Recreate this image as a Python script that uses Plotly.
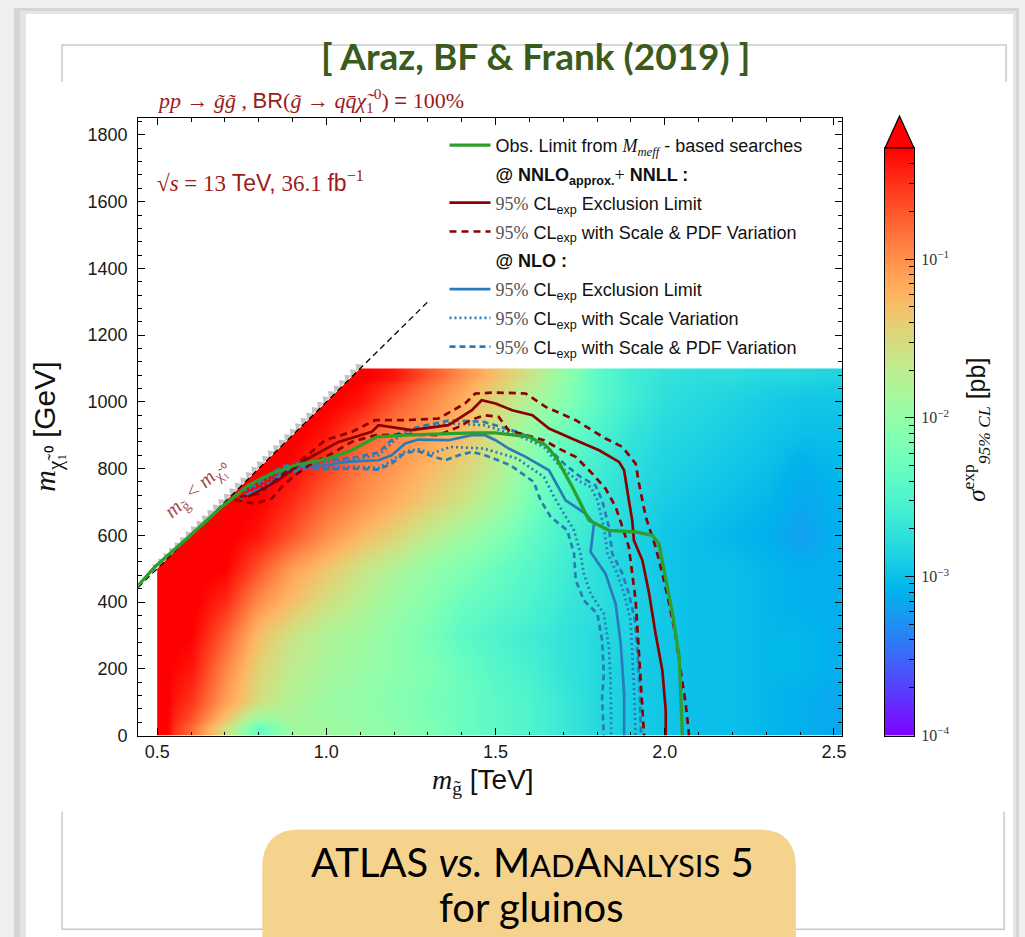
import numpy as np
import plotly.graph_objects as go

W, H = 1025, 937
# the page is photographed slightly shrunk; place items so they land on target pixels
SX, SY = 0.995, 0.99


def px(x):
    return x / (W * SX)


def py(y):
    return 1 - y / (H * SY)


# ---------------------------------------------------------------- data
# expected 95% CL cross-section upper limit, log10(sigma / pb)
m_gluino = [0.5, 0.6, 0.7, 0.8, 0.9, 1.0, 1.1, 1.2, 1.3, 1.4, 1.5,
            1.6, 1.7, 1.8, 1.9, 2.0, 2.1, 2.2, 2.3, 2.4, 2.5]          # TeV
m_neutralino = [0, 100, 200, 300, 400, 500, 600, 700, 800, 900, 1000, 1100]  # GeV
log_sigma = [
    [-0.25, -0.80, -1.55, -2.35, -1.90, -1.90, -1.98, -2.05, -2.15, -2.30, -2.40, -2.50, -2.65, -2.80, -2.90, -2.95, -3.00, -3.00, -3.05, -3.10, -3.15],
    [-0.25, -0.55, -1.10, -1.55, -1.80, -1.95, -2.00, -2.10, -2.20, -2.30, -2.40, -2.50, -2.65, -2.80, -2.90, -2.95, -3.00, -3.00, -3.05, -3.10, -3.15],
    [-0.25, -0.40, -0.95, -1.45, -1.70, -1.85, -1.95, -2.05, -2.15, -2.30, -2.45, -2.55, -2.70, -2.80, -2.90, -2.95, -3.00, -3.00, -3.05, -3.05, -3.10],
    [-0.25, -0.30, -0.75, -1.30, -1.60, -1.80, -1.90, -2.05, -2.20, -2.40, -2.50, -2.60, -2.70, -2.80, -2.85, -2.95, -3.00, -3.00, -3.05, -3.05, -3.10],
    [-0.25, -0.25, -0.50, -1.00, -1.30, -1.55, -1.75, -1.95, -2.10, -2.30, -2.40, -2.50, -2.65, -2.75, -2.85, -2.95, -3.00, -3.00, -3.05, -3.10, -3.10],
    [-0.25, -0.25, -0.30, -0.70, -1.10, -1.35, -1.60, -1.80, -2.00, -2.15, -2.30, -2.45, -2.60, -2.75, -2.85, -2.95, -3.00, -3.00, -3.05, -3.10, -3.10],
    [-0.25, -0.25, -0.25, -0.40, -0.70, -1.00, -1.25, -1.45, -1.70, -1.90, -2.10, -2.35, -2.55, -2.70, -2.85, -2.95, -3.00, -3.05, -3.10, -3.20, -3.10],
    [-0.25, -0.25, -0.25, -0.30, -0.50, -0.80, -1.00, -1.20, -1.40, -1.60, -1.85, -2.20, -2.50, -2.65, -2.80, -2.90, -2.95, -3.00, -3.05, -3.15, -3.10],
    [-0.25, -0.25, -0.25, -0.25, -0.35, -0.60, -0.90, -1.05, -1.25, -1.45, -1.70, -2.10, -2.40, -2.60, -2.75, -2.85, -2.90, -2.95, -3.00, -3.10, -3.05],
    [-0.25, -0.25, -0.25, -0.25, -0.25, -0.40, -0.70, -0.95, -1.10, -1.30, -1.60, -2.00, -2.30, -2.50, -2.70, -2.80, -2.85, -2.90, -2.95, -3.00, -3.00],
    [-0.25, -0.25, -0.25, -0.25, -0.25, -0.25, -0.40, -0.70, -0.95, -1.20, -1.50, -1.80, -2.10, -2.40, -2.60, -2.75, -2.80, -2.85, -2.90, -2.95, -2.95],
    [-0.25, -0.25, -0.25, -0.25, -0.25, -0.25, -0.25, -0.40, -0.70, -1.00, -1.30, -1.60, -2.00, -2.40, -2.60, -2.70, -2.75, -2.75, -2.80, -2.80, -2.85],
]

# observed limit (M_eff based searches)
obs_x = [0.444, 0.493, 0.592, 0.690, 0.740, 0.769, 0.838, 0.907, 1.006, 1.075, 1.149, 1.233, 1.430,
         1.500, 1.599, 1.648, 1.678, 1.727, 1.776, 1.835, 1.914, 1.963, 1.983, 2.003, 2.023, 2.043, 2.047, 2.052]
obs_y = [450, 505, 594, 685, 725, 750, 785, 810, 830, 855, 895, 900, 907,
         907, 895, 870, 835, 745, 645, 615, 610, 600, 575, 475, 365, 235, 125, 0]

# NNLO_approx + NNLL expected limit and its scale & PDF band
nnll_x = [0.769, 0.858, 0.937, 1.036, 1.134, 1.154, 1.252, 1.361, 1.430, 1.459, 1.500, 1.549, 1.609, 1.658,
          1.737, 1.806, 1.865, 1.880, 1.894, 1.904, 1.909, 1.934, 1.954, 1.973, 1.993, 2.003, 2.003]
nnll_y = [715, 765, 825, 880, 910, 930, 915, 930, 975, 1005, 995, 975, 960, 920,
          885, 855, 820, 795, 705, 645, 585, 525, 425, 305, 195, 75, 0]
nnll_up_x = [0.745, 0.800, 0.880, 0.950, 0.996, 1.075, 1.144, 1.233, 1.331, 1.410, 1.440, 1.500, 1.589, 1.648,
             1.737, 1.825, 1.875, 1.914, 1.924, 1.944, 1.973, 1.993, 2.013, 2.033, 2.047, 2.062, 2.072]
nnll_up_y = [715, 725, 790, 845, 885, 910, 945, 945, 950, 995, 1025, 1028, 1025, 985,
             945, 890, 865, 815, 755, 655, 565, 485, 395, 295, 195, 95, 0]
nnll_dn_x = [0.730, 0.789, 0.838, 0.868, 0.907, 0.957, 1.016, 1.075, 1.144, 1.233, 1.331, 1.391, 1.430, 1.469,
             1.509, 1.539, 1.643, 1.687, 1.737, 1.786, 1.825, 1.855, 1.875, 1.894, 1.904, 1.914, 1.919, 1.924,
             1.929, 1.934, 1.939]
nnll_dn_y = [706, 695, 710, 745, 780, 815, 845, 880, 900, 903, 900, 925, 947, 960,
             955, 915, 885, 860, 835, 785, 740, 685, 625, 565, 485, 405, 325, 245,
             165, 75, 0]

# NLO expected limit, scale band and scale & PDF band
nlo_x = [0.759, 0.828, 0.868, 0.907, 1.006, 1.055, 1.154, 1.193, 1.233, 1.272, 1.361, 1.430, 1.469,
         1.500, 1.539, 1.589, 1.658, 1.707, 1.766, 1.791, 1.781, 1.825, 1.855, 1.870, 1.880, 1.880]
nlo_y = [720, 745, 790, 807, 810, 820, 825, 840, 875, 887, 885, 900, 900,
         885, 860, 835, 795, 705, 665, 635, 550, 485, 395, 275, 125, 0]
nlo_sc_up_x = [0.745, 0.800, 0.868, 0.937, 1.006, 1.085, 1.154, 1.213, 1.272, 1.367, 1.466, 1.564, 1.643,
               1.692, 1.742, 1.781, 1.801, 1.820, 1.831, 1.860, 1.880, 1.899, 1.904, 1.909, 1.914]
nlo_sc_up_y = [728, 752, 800, 815, 820, 828, 840, 895, 920, 935, 930, 900, 865,
               805, 765, 745, 705, 625, 545, 485, 425, 345, 245, 145, 0]
nlo_sc_dn_x = [0.745, 0.800, 0.868, 0.937, 1.006, 1.085, 1.154, 1.193, 1.233, 1.272, 1.311, 1.367, 1.466,
               1.564, 1.643, 1.673, 1.702, 1.732, 1.751, 1.761, 1.781, 1.820, 1.835, 1.840, 1.842]
nlo_sc_dn_y = [716, 738, 786, 804, 802, 806, 802, 824, 852, 858, 845, 865, 860,
               830, 775, 715, 665, 615, 545, 485, 425, 365, 265, 165, 0]
nlo_pdf_up_x = [0.745, 0.800, 0.868, 0.937, 1.006, 1.085, 1.154, 1.213, 1.272, 1.367, 1.466, 1.564, 1.643,
                1.702, 1.751, 1.795, 1.815, 1.835, 1.845, 1.875, 1.894, 1.912, 1.920, 1.926, 1.930]
nlo_pdf_up_y = [732, 758, 806, 820, 826, 834, 848, 905, 925, 945, 940, 910, 875,
                815, 775, 750, 705, 625, 545, 485, 425, 345, 245, 145, 0]
nlo_pdf_dn_x = [0.745, 0.800, 0.868, 0.937, 1.006, 1.085, 1.154, 1.193, 1.233, 1.272, 1.311, 1.351, 1.391,
                1.430, 1.469, 1.495, 1.544, 1.613, 1.633, 1.663, 1.712, 1.732, 1.737, 1.761, 1.801, 1.815,
                1.820, 1.815, 1.820]
nlo_pdf_dn_y = [712, 730, 780, 800, 798, 800, 797, 815, 848, 852, 838, 825, 840,
                850, 840, 830, 810, 760, 705, 655, 615, 545, 465, 405, 365, 285,
                185, 115, 0]

x_ticks = [0.5, 1.0, 1.5, 2.0, 2.5]
y_ticks = [0, 200, 400, 600, 800, 1000, 1200, 1400, 1600, 1800]
cbar_ticks = [-4, -3, -2, -1]

# ---------------------------------------------------------------- styles
X_RANGE = [0.4438, 2.5237]
Y_RANGE = [0, 1851]
Z_RANGE = [-4.0, -0.3]
DARKRED = "#8b0000"
BLUE = "#2b7bba"
GREEN = "#2ca02c"
SANS = "Liberation Sans"
SERIF = "Liberation Serif"

# matplotlib-like "rainbow" colour map
rainbow = []
for t in np.linspace(0, 1, 33):
    r = min(1.0, abs(2 * t - 0.5))
    g = np.sin(np.pi * t)
    b = np.cos(np.pi * t / 2)
    rainbow.append([float(t), "rgb(%d,%d,%d)" % (round(255 * r), round(255 * max(g, 0)), round(255 * max(b, 0)))])


def edges(c, last=None):
    c = list(c)
    e = [c[0]] + [(a + b) / 2 for a, b in zip(c[:-1], c[1:])] + [c[-1]]
    if last is not None:
        e[-1] = last
    return e


def band(xa, ya, xb, yb):
    return list(xa) + [None] + list(xb), list(ya) + [None] + list(yb)


fig = go.Figure()

# cross-section map (stretched to the right-hand frame)
fig.add_trace(go.Heatmap(
    x=edges(m_gluino, X_RANGE[1]), y=edges(m_neutralino), z=log_sigma,
    coloraxis="coloraxis", zsmooth="best", hoverinfo="skip", showlegend=False))

# kinematically forbidden region m_gluino < m_neutralino
x0, ytop = m_gluino[0], m_neutralino[-1]
xa, xb = x0 - 0.03, ytop / 1000 + 0.03
fig.add_trace(go.Scatter(
    x=[xa, xb, xa, xa], y=[xa * 1000, xb * 1000, xb * 1000, xa * 1000],
    fill="toself", fillcolor="white", mode="lines", line=dict(width=0, color="white"),
    hoverinfo="skip", showlegend=False))

tri_x = np.linspace(x0, ytop / 1000, 38)
fig.add_trace(go.Scatter(
    x=tri_x - 0.006, y=tri_x * 1000 + 6, mode="markers",
    marker=dict(symbol="triangle-up", angle=-45, size=7.5, color="rgba(120,120,120,0.45)", line=dict(width=0)),
    hoverinfo="skip", showlegend=False))

diag_end = 1.3
fig.add_trace(go.Scatter(
    x=[X_RANGE[0], diag_end], y=[X_RANGE[0] * 1000, diag_end * 1000], mode="lines",
    line=dict(color="black", width=1.3, dash="6px,4px"), hoverinfo="skip", showlegend=False))


def cl(text):
    return ('<span style="font-family:%s;color:#555">95%%</span> CL<sub>exp</sub> %s' % (SERIF, text))


LW = 2.7
bx, by = band(nlo_pdf_up_x, nlo_pdf_up_y, nlo_pdf_dn_x, nlo_pdf_dn_y)
fig.add_trace(go.Scatter(x=bx, y=by, mode="lines", line=dict(color=BLUE, width=LW, dash="6px,4px"),
                         name=cl("with Scale &amp; PDF Variation"), legendgroup="g8", legendrank=8))
bx, by = band(nlo_sc_up_x, nlo_sc_up_y, nlo_sc_dn_x, nlo_sc_dn_y)
fig.add_trace(go.Scatter(x=bx, y=by, mode="lines", line=dict(color=BLUE, width=LW, dash="2px,3px"),
                         name=cl("with Scale Variation"), legendgroup="g7", legendrank=7))
fig.add_trace(go.Scatter(x=nlo_x, y=nlo_y, mode="lines", line=dict(color=BLUE, width=LW),
                         name=cl("Exclusion Limit"), legendgroup="g6", legendrank=6))
bx, by = band(nnll_up_x, nnll_up_y, nnll_dn_x, nnll_dn_y)
fig.add_trace(go.Scatter(x=bx, y=by, mode="lines", line=dict(color=DARKRED, width=LW, dash="7px,5px"),
                         name=cl("with Scale &amp; PDF Variation"), legendgroup="g4", legendrank=4))
fig.add_trace(go.Scatter(x=nnll_x, y=nnll_y, mode="lines", line=dict(color=DARKRED, width=LW),
                         name=cl("Exclusion Limit"), legendgroup="g3", legendrank=3))
fig.add_trace(go.Scatter(x=obs_x, y=obs_y, mode="lines", line=dict(color=GREEN, width=3.3),
                         name='Obs. Limit from <span style="font-family:%s"><i>M<sub>meff</sub></i></span> - based searches' % SERIF,
                         legendgroup="g1", legendrank=1))
# legend headers
fig.add_trace(go.Scatter(x=[None], y=[None], mode="lines", line=dict(color="rgba(0,0,0,0)"),
                         name='<b>@ NNLO<sub>approx.</sub></b><span style="font-family:%s">+</span> <b>NNLL :</b>' % SERIF,
                         legendgroup="g2", legendrank=2))
fig.add_trace(go.Scatter(x=[None], y=[None], mode="lines", line=dict(color="rgba(0,0,0,0)"),
                         name="<b>@ NLO :</b>", legendgroup="g5", legendrank=5))

# colour bar drawn on its own axes
cb_edges = np.linspace(Z_RANGE[0], Z_RANGE[1], 371)
cb_centres = (cb_edges[:-1] + cb_edges[1:]) / 2
fig.add_trace(go.Heatmap(x=[0, 1], y=cb_edges, z=[[v] for v in cb_centres], coloraxis="coloraxis",
                         xaxis="x2", yaxis="y2", hoverinfo="skip", showlegend=False))

minor_cb = [float(np.log10(k * 10.0 ** e)) for e in range(-4, 0) for k in range(2, 10)
            if np.log10(k * 10.0 ** e) < Z_RANGE[1]]

tick_font = dict(family=SANS, size=18, color="#1a1a1a")
axis_common = dict(showline=True, linecolor="black", linewidth=1.2, mirror="allticks", ticks="inside",
                   tickcolor="black", ticklen=7, tickwidth=1.1, showgrid=False, zeroline=False,
                   tickfont=tick_font)

fig.update_layout(
    width=W, height=H, margin=dict(l=0, r=0, t=0, b=0),
    paper_bgcolor="#efefef", plot_bgcolor="white",
    coloraxis=dict(colorscale=rainbow, cmin=Z_RANGE[0], cmax=Z_RANGE[1], showscale=False),
    xaxis=dict(domain=[px(138), px(841)], range=X_RANGE, tickvals=x_ticks,
               ticktext=["%.1f" % v for v in x_ticks], ticklabelstandoff=0,
               minor=dict(ticks="inside", ticklen=3.5, dtick=0.1, tick0=0.5, tickcolor="black"),
               anchor="y", **axis_common),
    yaxis=dict(domain=[py(736), py(118)], range=Y_RANGE, tickvals=y_ticks, ticklabelstandoff=6,
               minor=dict(ticks="inside", ticklen=3.5, dtick=40, tick0=0, tickcolor="black"),
               anchor="x", **axis_common),
    xaxis2=dict(domain=[px(884), px(913)], range=[0, 1], showticklabels=False, ticks="",
                showline=True, linecolor="black", linewidth=1.2, mirror=True, showgrid=False,
                zeroline=False, anchor="y2", fixedrange=True),
    yaxis2=dict(domain=[py(736), py(148)], range=Z_RANGE, side="right", anchor="x2",
                tickvals=cbar_ticks, ticktext=["10<sup>\u2212%d</sup>" % -v for v in cbar_ticks],
                ticks="inside", ticklen=9, tickcolor="black", tickwidth=1,
                minor=dict(ticks="inside", ticklen=5, tickvals=minor_cb, tickcolor="black"),
                showline=True, linecolor="black", linewidth=1.2, mirror=True, showgrid=False,
                zeroline=False, tickfont=dict(family=SERIF, size=16, color="#333"), ticklabelstandoff=3),
    legend=dict(x=px(444), y=py(127), xanchor="left", yanchor="top", bgcolor="rgba(0,0,0,0)",
                font=dict(family=SANS, size=18, color="#111"), itemwidth=41, tracegroupgap=2.4,
                traceorder="grouped"),
    showlegend=True,
)


# ---------------------------------------------------------------- page decoration
def path(points, close=True):
    s = "M %f,%f " % (px(points[0][0]), py(points[0][1]))
    for x, y in points[1:]:
        s += "L %f,%f " % (px(x), py(y))
    return s + ("Z" if close else "")


def rounded(x0_, y0_, x1_, y1_, r):
    P = lambda x, y: "%f,%f" % (px(x), py(y))
    return ("M %s L %s Q %s %s L %s Q %s %s L %s Q %s %s L %s Q %s %s Z" % (
        P(x0_ + r, y0_), P(x1_ - r, y0_), P(x1_, y0_), P(x1_, y0_ + r),
        P(x1_, y1_ - r), P(x1_, y1_), P(x1_ - r, y1_),
        P(x0_ + r, y1_), P(x0_, y1_), P(x0_, y1_ - r),
        P(x0_, y0_ + r), P(x0_, y0_), P(x0_ + r, y0_)))


shapes = [
    # slide card and its shadow
    dict(type="rect", xref="paper", yref="paper", x0=px(14), x1=px(1018), y0=py(960), y1=py(8),
         fillcolor="#d5d5d5", line=dict(width=0), layer="below"),
    dict(type="rect", xref="paper", yref="paper", x0=px(20), x1=px(1015), y0=py(960), y1=py(11),
         fillcolor="#e4e4e4", line=dict(width=0), layer="below"),
    dict(type="rect", xref="paper", yref="paper", x0=px(26), x1=px(1012), y0=py(960), y1=py(14),
         fillcolor="white", line=dict(width=0), layer="below"),
    # frames of the title and caption boxes
    dict(type="path", xref="paper", yref="paper", path=path([(62, 82), (62, 45), (1005, 45), (1005, 82)], False),
         line=dict(color="#c9c9c9", width=1.5), layer="below"),
    dict(type="path", xref="paper", yref="paper", path=path([(62, 812), (62, 930), (1003, 930), (1003, 812)], False),
         line=dict(color="#c9c9c9", width=1.5), layer="below"),
    # caption box
    dict(type="path", xref="paper", yref="paper", path=rounded(262, 830, 795, 985, 38),
         fillcolor="#f6d38c", line=dict(width=0), layer="below"),
    # colour bar extension arrow
    dict(type="path", xref="paper", yref="paper", path=path([(884, 148), (898.5, 116), (913, 148)]),
         fillcolor="red", line=dict(color="black", width=1.2), layer="above"),
]
fig.update_layout(shapes=shapes)

DR_TEXT = "#9b1c1c"
ann = [
    dict(x=px(535), y=py(56), text="<b>[ Araz, BF &amp; Frank (2019) ]</b>",
         font=dict(family="Lato", size=37, color="#3b5b1c")),
    dict(x=px(155), y=py(101), xanchor="left",
         text='<i>pp</i> \u2192 <i>g\u0303g\u0303</i> , <span style="font-family:%s">BR</span>(<i>g\u0303</i> \u2192 '
              '<i>qq\u0304\u03c7\u0303</i><sub>1</sub><sup>0</sup>) <span style="font-family:%s">=</span> 100%%' % (SANS, SANS),
         font=dict(family=SERIF, size=22, color=DR_TEXT)),
    dict(x=px(155), y=py(182), xanchor="left",
         text='\u221a<i>s</i> = 13 <span style="font-family:%s">TeV,</span> 36.1 <span style="font-family:%s">fb</span><sup>\u22121</sup>' % (SANS, SANS),
         font=dict(family=SERIF, size=23, color=DR_TEXT)),
    dict(x=px(196), y=py(489), textangle=-42,
         text="<i>m</i><sub>g\u0303</sub> &lt; <i>m</i><sub>\u03c7\u0303\u2081\u2070</sub>",
         font=dict(family=SERIF, size=21, color="rgba(150,30,30,0.85)")),
    dict(x=px(482), y=py(782),
         text='<span style="font-family:%s"><i>m</i><sub>g\u0303</sub></span> [TeV]' % SERIF,
         font=dict(family=SANS, size=28, color="#111")),
    dict(x=px(47), y=py(427), textangle=-90,
         text='<span style="font-family:%s"><i>m</i><sub>\u03c7\u0303\u2081\u2070</sub></span> [GeV]' % SERIF,
         font=dict(family=SANS, size=30, color="#111")),
    dict(x=px(975), y=py(430), textangle=-90,
         text='<span style="font-family:%s"><i>\u03c3</i><sup>exp</sup><sub><i>95%% CL</i></sub></span> [pb]' % SERIF,
         font=dict(family=SANS, size=25, color="#111")),
    dict(x=px(532), y=py(863),
         text='ATLAS <i>vs.</i> M<span style="font-size:31px">AD</span>A<span style="font-size:31px">NALYSIS</span> 5',
         font=dict(family="Lato", size=40, color="black")),
    dict(x=px(530), y=py(908), text="for gluinos", font=dict(family="Lato", size=40, color="black")),
]
for a in ann:
    a.setdefault("xref", "paper")
    a.setdefault("yref", "paper")
    a.setdefault("showarrow", False)
    a.setdefault("xanchor", "center")
    a.setdefault("yanchor", "middle")
fig.update_layout(annotations=ann)

fig.write_html("out.html")
